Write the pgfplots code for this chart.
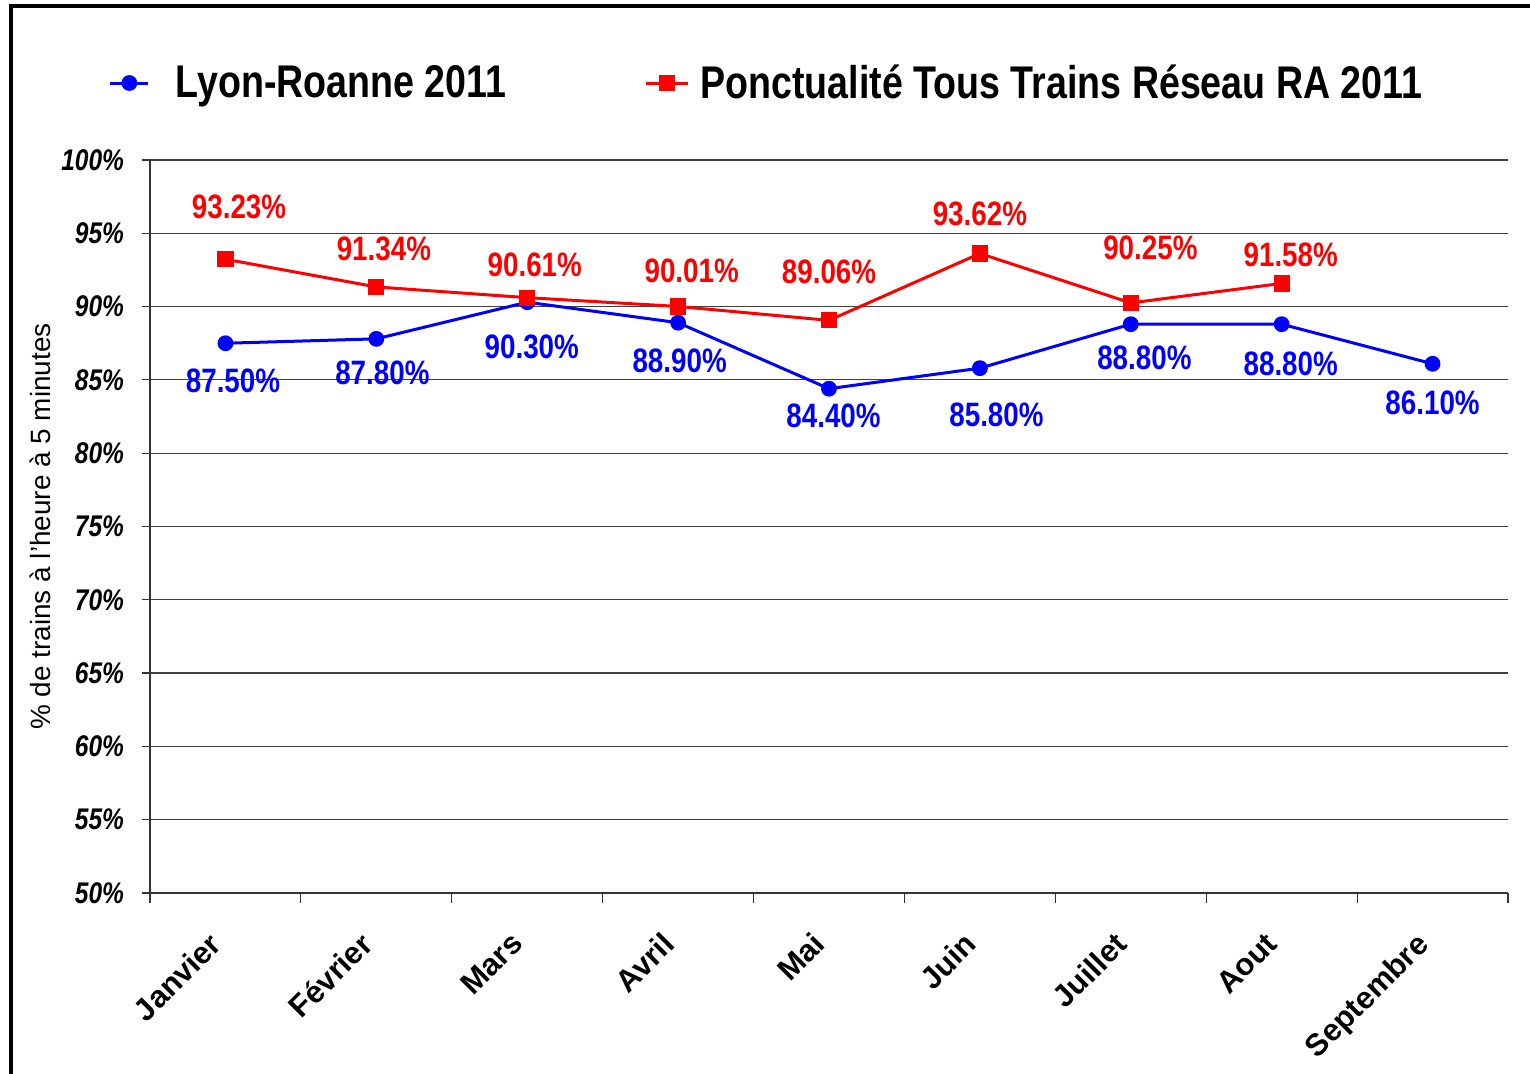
\documentclass[border=0pt]{standalone}
\usepackage{fontspec}
\setmainfont{Liberation Sans}
\newfontfamily\narrow{Liberation Sans}[FakeStretch=0.82]
\usepackage{pgfplots}
\pgfplotsset{compat=1.18}
\definecolor{lblue}{RGB}{0,0,255}
\definecolor{lred}{RGB}{255,0,0}
\pgfplotsset{
  blueleg/.style={legend image code/.code={\draw[mark repeat=2,mark phase=2,##1] plot coordinates {(0bp,0bp) (9.5bp,0bp) (19bp,0bp)}; \path (30bp,0bp);}},
  redleg/.style={legend image code/.code={\draw[mark repeat=2,mark phase=2,##1] plot coordinates {(0bp,0bp) (10.5bp,0bp) (21bp,0bp)}; \path (24.5bp,0bp);}},
}
\begin{document}
\begin{tikzpicture}
\path[use as bounding box] (0,0) rectangle (765bp,537bp);
\draw[line width=2bp] (5.5bp,-5bp) -- (5.5bp,534bp) -- (770bp,534bp);
\begin{axis}[
  at={(75bp,90.5bp)}, anchor=south west,
  scale only axis, width=679bp, height=366.5bp,
  xmin=-0.5, xmax=8.5, ymin=50, ymax=100,
  axis x line*=bottom, axis y line*=left,
  axis line style={line width=0.6bp, black!80},
  xtick={0,...,8},
  xticklabels={Janvier,F\'evrier,Mars,Avril,Mai,Juin,Juillet,Aout,Septembre},
  major x tick style={draw=none},
  minor xtick={-0.5,0.5,...,8.5},
  minor x tick style={black!80, line width=0.6bp},
  minor tick length=5bp,
  ytick={50,55,...,100},
  yticklabel={\pgfmathprintnumber{\tick}\%},
  major tick length=4bp,
  tick align=outside,
  y tick style={black!80, line width=0.6bp},
  ymajorgrids, grid style={black!75, line width=0.6bp},
  /pgf/number format/assume math mode=true,
  yticklabel style={font=\narrow\bfseries\itshape\fontsize{15}{17}\selectfont, xshift=-5.5bp},
  xticklabel style={font=\bfseries\fontsize{15.5}{17}\selectfont, rotate=45, anchor=north east, xshift=-13.3bp, yshift=-0.7bp},
  ylabel={\% de trains \`a l'heure \`a 5 minutes},
  ylabel style={font=\fontsize{14}{16}\selectfont, at={(axis description cs:-0.081,0.5)}, anchor=center},
  legend columns=2,
  legend style={at={(-0.035,1.105)}, anchor=west, draw=none, fill=none,
    font=\narrow\bfseries\fontsize{23}{26}\selectfont,
    /tikz/every even column/.append style={column sep=67bp}},
  clip=false,
]
\addplot[color=lblue, line width=1.5bp, mark=*, mark size=3.2bp, mark options={solid}, blueleg] coordinates {
 (0,87.5) (1,87.8) (2,90.3) (3,88.9) (4,84.4) (5,85.8) (6,88.8) (7,88.8) (8,86.1)};
\addlegendentry{Lyon-Roanne 2011}
\addplot[color=lred, line width=1.5bp, mark=square*, mark size=3.3bp, mark options={solid}, redleg] coordinates {
 (0,93.23) (1,91.34) (2,90.61) (3,90.01) (4,89.06) (5,93.62) (6,90.25) (7,91.58)};
\addlegendentry{Ponctualit\'e Tous Trains R\'eseau RA 2011}
% labels
\addplot[draw=none, mark=none, forget plot, point meta=explicit,
  nodes near coords={\pgfmathprintnumber[fixed,fixed zerofill,precision=2]{\pgfplotspointmeta}\%},
  nodes near coords style={anchor=center, text=lred, font=\narrow\bfseries\fontsize{17}{19}\selectfont, /pgf/number format/assume math mode=true}]
 table[meta=v] {
x y v
0.09 96.79 93.23
1.05 93.93 91.34
2.05 92.84 90.61
3.09 92.43 90.01
4.00 92.36 89.06
5.00 96.32 93.62
6.13 94.00 90.25
7.06 93.52 91.58
};
\addplot[draw=none, mark=none, forget plot, point meta=explicit,
  nodes near coords={\pgfmathprintnumber[fixed,fixed zerofill,precision=2]{\pgfplotspointmeta}\%},
  nodes near coords style={anchor=center, text=lblue, font=\narrow\bfseries\fontsize{17}{19}\selectfont, /pgf/number format/assume math mode=true}]
 table[meta=v] {
x y v
0.05 84.92 87.5
1.04 85.47 87.8
2.03 87.24 90.3
3.01 86.29 88.9
4.03 82.54 84.4
5.11 82.61 85.8
6.09 86.49 88.8
7.06 86.08 88.8
8.00 83.42 86.1
};
\end{axis}
\end{tikzpicture}
\end{document}
